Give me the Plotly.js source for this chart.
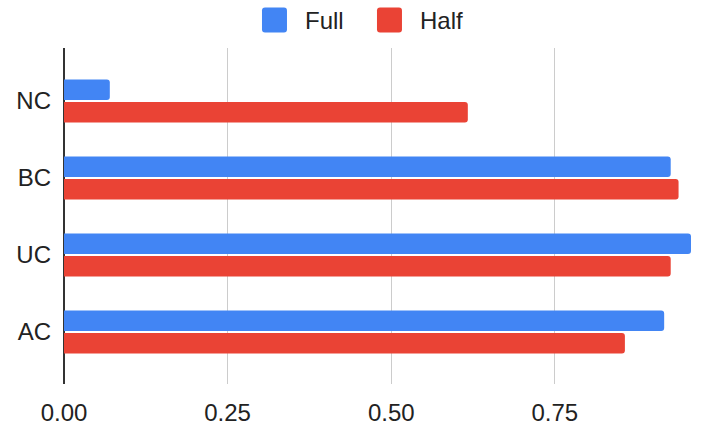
<!DOCTYPE html>
<html>
<head>
<meta charset="utf-8">
<script src="https://cdn.plot.ly/plotly-3.0.1.min.js"></script>
<style>html,body{margin:0;padding:0;background:#fff;}#chart{width:707px;height:431px;}</style>
</head>
<body>
<div id="chart"></div>
<script>
const categories = ['NC', 'BC', 'UC', 'AC'];
const fullValues = [0.070, 0.927, 0.958, 0.917];
const halfValues = [0.617, 0.939, 0.927, 0.857];
const seriesNames = ['Full', 'Half'];
const tickValues = [0, 0.25, 0.5, 0.75];
const tickLabels = ['0.00', '0.25', '0.50', '0.75'];

const colors = ['#4285F4', '#EA4335'];
const font = {family: 'Arial, "Liberation Sans", sans-serif', size: 24, color: '#222222'};

const traces = [fullValues, halfValues].map((vals, i) => ({
  type: 'bar',
  orientation: 'h',
  name: seriesNames[i],
  x: vals,
  y: categories,
  marker: {color: colors[i], cornerradius: 3},
  showlegend: false,
  hoverinfo: 'x+y'
}));

function swatch(cx, color) {
  const r = 12.5, c = 3;
  return {
    type: 'path', xref: 'paper', yref: 'paper',
    xsizemode: 'pixel', ysizemode: 'pixel',
    xanchor: cx, yanchor: 1.0833,
    path: `M ${-r + c},${-r} L ${r - c},${-r} Q ${r},${-r} ${r},${-r + c} L ${r},${r - c} Q ${r},${r} ${r - c},${r} L ${-r + c},${r} Q ${-r},${r} ${-r},${r - c} L ${-r},${-r + c} Q ${-r},${-r} ${-r + c},${-r} Z`,
    fillcolor: color, line: {width: 0}
  };
}

const layout = {
  width: 707, height: 431,
  margin: {l: 64, r: 16, t: 48, b: 47},
  paper_bgcolor: '#ffffff', plot_bgcolor: '#ffffff',
  font: font,
  barmode: 'group',
  bargap: 0.416,
  bargroupgap: 0.09,
  xaxis: {
    range: [0, 0.958],
    tickvals: tickValues,
    ticktext: tickLabels,
    showgrid: true, gridcolor: '#cccccc', gridwidth: 1,
    zeroline: true, zerolinecolor: '#333333', zerolinewidth: 1.5,
    showline: false, ticks: '',
    ticklabelstandoff: 12,
    tickfont: font,
    fixedrange: true
  },
  yaxis: {
    type: 'category',
    categoryorder: 'array', categoryarray: categories,
    range: [3.675, -0.688],
    showgrid: false, zeroline: false, showline: false, ticks: '',
    ticklabelstandoff: 12,
    tickfont: font,
    fixedrange: true
  },
  shapes: [swatch(0.3357, colors[0]), swatch(0.5191, colors[1])],
  annotations: [
    {xref: 'paper', yref: 'paper', x: 0.3812, y: 1.0833, xanchor: 'left', yanchor: 'middle', text: seriesNames[0], showarrow: false, font: font},
    {xref: 'paper', yref: 'paper', x: 0.5646, y: 1.0833, xanchor: 'left', yanchor: 'middle', text: seriesNames[1], showarrow: false, font: font}
  ],
  showlegend: false
};

Plotly.newPlot('chart', traces, layout, {displayModeBar: false, staticPlot: true});
</script>
</body>
</html>
